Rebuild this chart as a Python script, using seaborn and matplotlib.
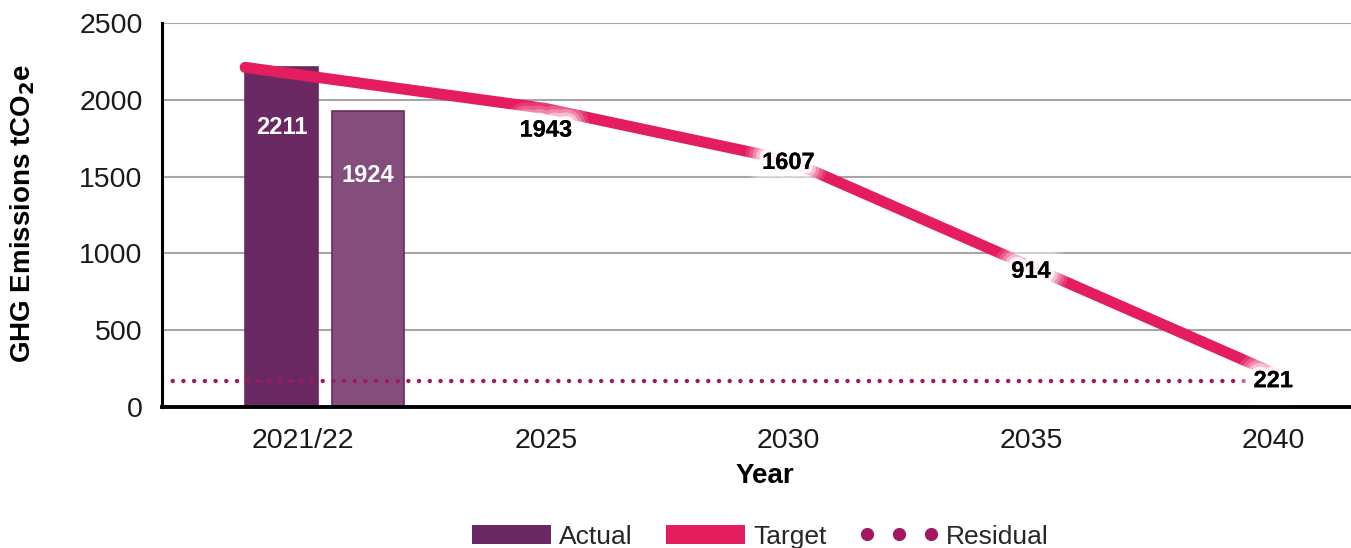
import matplotlib
matplotlib.use("Agg")
import matplotlib.pyplot as plt
import matplotlib.patheffects as pe
from matplotlib.patches import Patch
from matplotlib.lines import Line2D
import seaborn as sns
import pandas as pd

# ---- data ----
categories = ["2021/22", "2025", "2030", "2035", "2040"]
actual_labels = ["2021/22 a", "2021/22 b"]
actual_values = [2211, 1924]
target_years = ["2021/22", "2025", "2030", "2035", "2040"]
target_values = [2211, 1943, 1607, 914, 221]
residual_value = 170
y_ticks = [0, 500, 1000, 1500, 2000, 2500]

# ---- style ----
sns.set_theme(style="white")
plt.rcParams["font.family"] = ["Liberation Sans", "DejaVu Sans"]

C_ACT1 = "#6A2963"
C_ACT2 = "#834E7C"
C_TGT = "#E41D5F"
C_RES = "#A3185F"

fig = plt.figure(figsize=(13.51, 5.48), dpi=100)
ax = fig.add_axes([0.1199, 0.2573, 0.8801, 0.7007])

xpos = {c: i for i, c in enumerate(categories)}

# bars (offsets around the first category)
bar_offsets = [-0.09, 0.267]
bar_width = 0.30
bar_colors = [C_ACT1, C_ACT2]
bar_label_drop = [390, 420]
for off, val, col, drop in zip(bar_offsets, actual_values, bar_colors, bar_label_drop):
    ax.bar(xpos["2021/22"] + off, val, width=bar_width, color=col,
           edgecolor=C_ACT1, linewidth=1.2, zorder=2)
    ax.text(xpos["2021/22"] + off, val - drop,
            f"{val}", color="white", fontsize=17, fontweight="bold",
            ha="center", va="center", zorder=5)

# target line (starts at left edge of first bar)
tx = [xpos[c] for c in target_years]
tx[0] = xpos["2021/22"] + bar_offsets[0] - bar_width / 2
df_t = pd.DataFrame({"x": tx, "y": target_values})
sns.lineplot(data=df_t, x="x", y="y", ax=ax, color=C_TGT, linewidth=8,
             sort=False, zorder=3, solid_capstyle="round",
             solid_joinstyle="round")

# residual dotted line
df_r = pd.DataFrame({"x": [-0.583, 3.88], "y": [residual_value] * 2})
sns.lineplot(data=df_r, x="x", y="y", ax=ax, color=C_RES, linewidth=3.2,
             linestyle=(0, (0.01, 2.4)), dash_capstyle="round", zorder=2.5)

# target labels with soft glow
glow = [pe.withStroke(linewidth=w, foreground="white", alpha=a)
        for w, a in [(26, 0.12), (21, 0.18), (16, 0.28), (11, 0.45), (6, 0.8)]]
glow.append(pe.Normal())
label_offsets = [None, -140, -15, -30, -50]
for i, (c, v) in enumerate(zip(target_years, target_values)):
    if label_offsets[i] is None:
        continue
    ax.text(xpos[c], v + label_offsets[i], f"{v}", fontsize=17,
            fontweight="bold", color="black", ha="center", va="center",
            zorder=6, path_effects=glow)

# axes
ax.set_xlim(-0.583, 4.32)
ax.set_ylim(0, 2500)
ax.set_yticks(y_ticks)
ax.set_yticklabels([str(t) for t in y_ticks])
ax.set_xticks(range(len(categories)))
ax.set_xticklabels(categories)
ax.tick_params(axis="both", length=0, labelsize=20.5, colors="#1a1a1a")
ax.tick_params(axis="y", pad=14)
ax.tick_params(axis="x", pad=15)
ax.yaxis.grid(True, color="#A6A6A6", linewidth=1.5)
ax.xaxis.grid(False)
ax.set_axisbelow(True)
for s in ["top", "right"]:
    ax.spines[s].set_visible(False)
ax.spines["left"].set_color("black")
ax.spines["left"].set_linewidth(2.2)
ax.spines["bottom"].set_color("black")
ax.spines["bottom"].set_linewidth(2.8)
ax.spines["left"].set_zorder(4)
ax.spines["bottom"].set_zorder(4)

ax.set_ylabel("GHG Emissions tCO$_\\mathbf{2}$e", fontsize=20, fontweight="bold",
              color="black")
ax.yaxis.set_label_coords(-0.105, 0.505)
ax.set_xlabel("Year", fontsize=20, fontweight="bold", color="black")
ax.xaxis.set_label_coords(0.507, -0.145)

handles = [Patch(facecolor=C_ACT1, edgecolor="none"),
           Patch(facecolor=C_TGT, edgecolor="none"),
           Line2D([0], [0], linestyle="none", marker="o", markersize=8.5,
                  color=C_RES)]
fig.legend(handles, ["Actual", "Target", "Residual"], loc="lower center",
           bbox_to_anchor=(0.563, -0.045), ncol=3, frameon=False,
           fontsize=19, handlelength=3.0, handleheight=0.75,
           handletextpad=0.3, columnspacing=1.25, numpoints=3)

fig.savefig("out.png", dpi=100)
